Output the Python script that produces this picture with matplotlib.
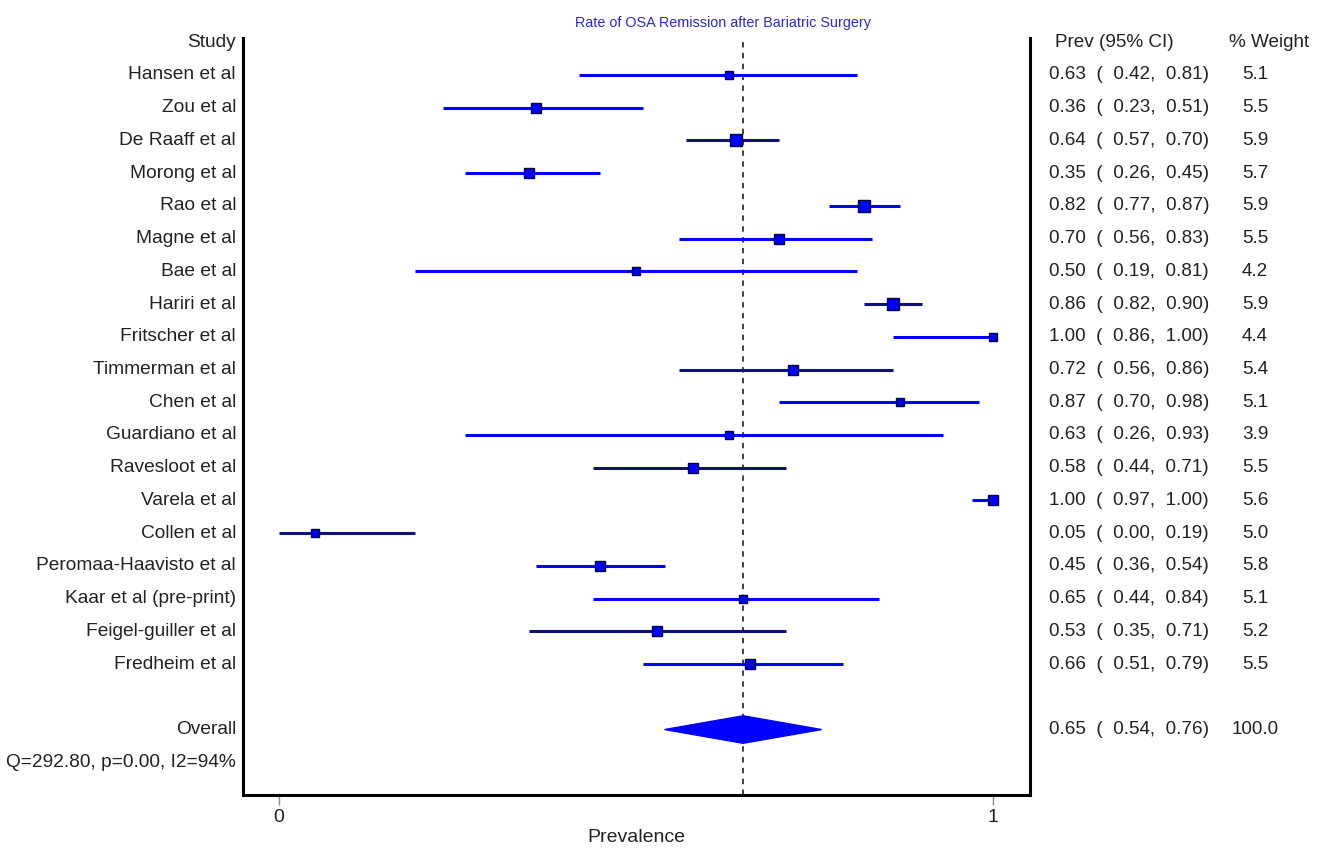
import numpy as np
import matplotlib
matplotlib.use('Agg')
import matplotlib.pyplot as plt
from matplotlib.patches import Polygon

plt.rcParams['font.family'] = ['Liberation Sans', 'DejaVu Sans']

# data
studies = ['Hansen et al', 'Zou et al', 'De Raaff et al', 'Morong et al', 'Rao et al',
           'Magne et al', 'Bae et al', 'Hariri et al', 'Fritscher et al', 'Timmerman et al',
           'Chen et al', 'Guardiano et al', 'Ravesloot et al', 'Varela et al', 'Collen et al',
           'Peromaa-Haavisto et al', 'Kaar et al (pre-print)', 'Feigel-guiller et al',
           'Fredheim et al']
prev = [0.63, 0.36, 0.64, 0.35, 0.82, 0.70, 0.50, 0.86, 1.00, 0.72,
        0.87, 0.63, 0.58, 1.00, 0.05, 0.45, 0.65, 0.53, 0.66]
ci_lo = [0.42, 0.23, 0.57, 0.26, 0.77, 0.56, 0.19, 0.82, 0.86, 0.56,
         0.70, 0.26, 0.44, 0.97, 0.00, 0.36, 0.44, 0.35, 0.51]
ci_hi = [0.81, 0.51, 0.70, 0.45, 0.87, 0.83, 0.81, 0.90, 1.00, 0.86,
         0.98, 0.93, 0.71, 1.00, 0.19, 0.54, 0.84, 0.71, 0.79]
weight = [5.1, 5.5, 5.9, 5.7, 5.9, 5.5, 4.2, 5.9, 4.4, 5.4,
          5.1, 3.9, 5.5, 5.6, 5.0, 5.8, 5.1, 5.2, 5.5]
overall = (0.65, 0.54, 0.76)
overall_weight = 100.0
het_text = 'Q=292.80, p=0.00, I2=94%'

TXT = '#222222'
BLUE = '#0000ff'
NAVY = '#10107a'
dark_rows = {'De Raaff et al', 'Timmerman et al', 'Ravesloot et al', 'Collen et al',
             'Feigel-guiller et al', 'Hariri et al'}

FS_L = 13.8   # left labels
FS_R = 13.6   # right columns

fig = plt.figure(figsize=(13.27, 8.49), dpi=100)
ax = fig.add_axes([243 / 1327, 1 - 795 / 849, (1030 - 243) / 1327, (795 - 38) / 849])

ax.set_xlim(-36 / 714, 1 + 37 / 714)
ax.set_ylim(23.0, -0.13)

for s in ['left', 'right', 'bottom']:
    ax.spines[s].set_linewidth(2.2)
    ax.spines[s].set_color('black')
ax.spines['top'].set_visible(False)

ax.set_yticks([])
ax.set_xticks([0, 1])
ax.set_xticklabels(['0', '1'], fontsize=14, color=TXT)
ax.tick_params(axis='x', length=7, width=1, color='#888888', pad=3)
ax.set_xlabel('Prevalence', fontsize=14, color=TXT, labelpad=2)

# pooled estimate reference line
ax.axvline(overall[0], color='#333333', lw=1.3, ls=(0, (3, 3)), zorder=1)

lx = -43 / 714
px = 1.0784
wx = 1.367
for i, name in enumerate(studies):
    y = i + 1
    col = NAVY if name in dark_rows else BLUE
    ax.plot([ci_lo[i], ci_hi[i]], [y, y], color=col, lw=2.2, solid_capstyle='butt', zorder=2)
    side = 7.5 if weight[i] <= 5.1 else 10.5 + (weight[i] - 5.5) * 1.5
    ax.plot(prev[i], y, 's', ms=side * 0.72, mfc=BLUE, mec='#000040', mew=1.0, zorder=3,
            clip_on=False)
    ax.text(lx, y, name, ha='right', va='center', fontsize=FS_L, color=TXT, clip_on=False)
    ax.text(px, y, f'{prev[i]:.2f}  (  {ci_lo[i]:.2f},  {ci_hi[i]:.2f})', ha='left',
            va='center', fontsize=FS_R, color=TXT, clip_on=False)
    ax.text(wx, y, f'{weight[i]:.1f}', ha='center', va='center', fontsize=FS_R,
            color=TXT, clip_on=False)

# overall diamond
yo = 21
est, lo, hi = overall
ax.add_patch(Polygon([[lo, yo], [est, yo - 0.42], [hi, yo], [est, yo + 0.42]],
                     closed=True, facecolor=BLUE, edgecolor=BLUE, zorder=3))
ax.text(lx, yo, 'Overall', ha='right', va='center', fontsize=FS_L, color=TXT, clip_on=False)
ax.text(px, yo, f'{est:.2f}  (  {lo:.2f},  {hi:.2f})', ha='left', va='center',
        fontsize=FS_R, color=TXT, clip_on=False)
ax.text(wx, yo, f'{overall_weight:.1f}', ha='center', va='center', fontsize=FS_R,
        color=TXT, clip_on=False)
ax.text(lx, 22, het_text, ha='right', va='center', fontsize=FS_L, color=TXT, clip_on=False)

# headers
ax.text(lx, 0, 'Study', ha='right', va='center', fontsize=FS_L, color=TXT, clip_on=False)
ax.text(1.087, 0, 'Prev (95% CI)', ha='left', va='center', fontsize=FS_R, color=TXT,
        clip_on=False)
ax.text(1.387, 0, '% Weight', ha='center', va='center', fontsize=FS_R, color=TXT,
        clip_on=False)
ax.text(0.622, -0.6, 'Rate of OSA Remission after Bariatric Surgery', ha='center',
        va='center', fontsize=10.4, color='#2a2ad0', clip_on=False)

fig.savefig('out.png', dpi=100)
